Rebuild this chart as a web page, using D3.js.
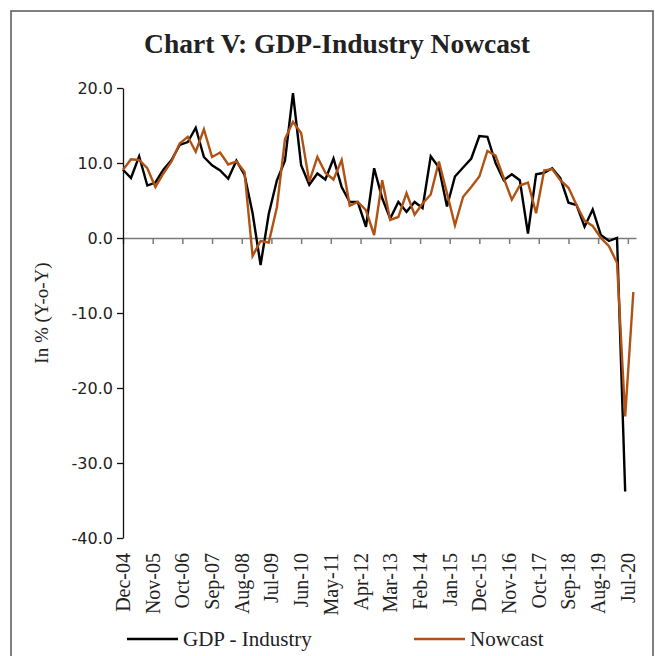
<!DOCTYPE html>
<html>
<head>
<meta charset="utf-8">
<script src="https://cdn.jsdelivr.net/npm/d3@7"></script>
<style>
  body { margin: 0; background: #fff; }
  .lbl { font-family: "Liberation Serif", serif; fill: #222; }
  .yax text { font-family: "DejaVu Sans", sans-serif; font-size: 16px; fill: #222; }
</style>
</head>
<body>
<div id="chart"></div>
<script>
const width = 655
const height = 656

// quarters (end month), Dec-04 .. Sep-20
const quarters = ["Dec-04","Mar-05","Jun-05","Sep-05","Dec-05","Mar-06","Jun-06","Sep-06",
  "Dec-06","Mar-07","Jun-07","Sep-07","Dec-07","Mar-08","Jun-08","Sep-08",
  "Dec-08","Mar-09","Jun-09","Sep-09","Dec-09","Mar-10","Jun-10","Sep-10",
  "Dec-10","Mar-11","Jun-11","Sep-11","Dec-11","Mar-12","Jun-12","Sep-12",
  "Dec-12","Mar-13","Jun-13","Sep-13","Dec-13","Mar-14","Jun-14","Sep-14",
  "Dec-14","Mar-15","Jun-15","Sep-15","Dec-15","Mar-16","Jun-16","Sep-16",
  "Dec-16","Mar-17","Jun-17","Sep-17","Dec-17","Mar-18","Jun-18","Sep-18",
  "Dec-18","Mar-19","Jun-19","Sep-19","Dec-19","Mar-20","Jun-20","Sep-20"]

// GDP - Industry, y-o-y % (ends Jun-20)
const gdpIndustry = [9.1, 8.0, 10.9, 7.0, 7.4, 9.1, 10.4, 12.4,
  12.8, 14.7, 10.8, 9.7, 9.0, 7.9, 10.3, 8.4,
  3.3, -3.6, 3.2, 7.7, 10.3, 19.3, 9.7, 7.1,
  8.6, 7.8, 10.6, 6.8, 4.8, 4.8, 1.5, 9.3,
  5.3, 2.6, 4.8, 3.5, 4.8, 4.0, 10.9, 9.4,
  4.2, 8.2, 9.4, 10.6, 13.6, 13.5, 10.0, 7.7,
  8.5, 7.7, 0.6, 8.5, 8.7, 9.3, 8.0, 4.7,
  4.4, 1.5, 3.8, 0.4, -0.4, 0.0, -33.8]

// Nowcast, y-o-y % (ends Sep-20)
const nowcast = [9.1, 10.5, 10.4, 9.3, 6.8, 8.6, 10.2, 12.6,
  13.5, 11.5, 14.5, 10.8, 11.4, 9.8, 10.2, 8.8,
  -2.4, -0.4, -0.6, 4.1, 13.2, 15.5, 14.0, 7.5,
  10.8, 8.7, 7.8, 10.4, 4.3, 4.8, 3.7, 0.4,
  7.7, 2.4, 2.8, 6.0, 3.1, 4.6, 5.8, 10.2,
  6.0, 1.7, 5.5, 6.8, 8.2, 11.6, 11.0, 8.0,
  5.1, 7.0, 7.4, 3.3, 9.0, 9.2, 7.7, 6.7,
  4.4, 2.3, 1.6, 0.0, -1.1, -3.3, -23.8, -7.2]

const xTickLabels = ["Dec-04","Nov-05","Oct-06","Sep-07","Aug-08","Jul-09","Jun-10","May-11",
  "Apr-12","Mar-13","Feb-14","Jan-15","Dec-15","Nov-16","Oct-17","Sep-18","Aug-19","Jul-20"]
const yTicks = [20, 10, 0, -10, -20, -30, -40]

const parse = d3.timeParse("%b-%y")

const svg = d3.select("div#chart")
    .append("svg")
    .attr("width", width)
    .attr("height", height)

// marco del grafico
svg.append("rect")
    .attr("x", 11).attr("y", 11)
    .attr("width", 642).attr("height", 660)
    .attr("fill", "none")
    .attr("stroke", "#555")
    .attr("stroke-width", 1.5)

svg.append("text")
    .attr("class", "lbl")
    .attr("x", 337).attr("y", 53)
    .attr("text-anchor", "middle")
    .style("font-size", "27.5px")
    .style("font-weight", "bold")
    .text("Chart V: GDP-Industry Nowcast")

const x = d3.scaleTime()
    .domain([parse("Dec-04"), parse("Oct-20")])
    .range([123, 636])
const y = d3.scaleLinear().domain([-40, 20]).range([538, 88])

// eje x en el cero
const xAxis = d3.axisBottom(x)
    .tickValues(xTickLabels.map(parse))
    .tickFormat("")
    .tickSize(6)
    .tickSizeOuter(0)
const xg = svg.append("g").attr("transform", `translate(0,${y(0)})`).call(xAxis)
xg.selectAll("path, line").attr("stroke", "#7a7a7a").attr("stroke-width", 1.5)

// eje y
const yAxis = d3.axisLeft(y)
    .tickValues(yTicks)
    .tickFormat(d => d.toFixed(1))
    .tickSize(6)
    .tickSizeOuter(0)
    .tickPadding(4)
const yg = svg.append("g").attr("class", "yax").attr("transform", "translate(123,0)").call(yAxis)
yg.selectAll("path, line").attr("stroke", "#111").attr("stroke-width", 1.3)

svg.append("text")
    .attr("class", "lbl")
    .attr("transform", `translate(48,${y(-10)}) rotate(-90)`)
    .attr("text-anchor", "middle")
    .style("font-size", "19px")
    .text("In % (Y-o-Y)")

// etiquetas de fecha abajo, giradas
svg.append("g").selectAll("text").data(xTickLabels)
    .join("text")
    .attr("class", "lbl")
    .attr("transform", d => `translate(${x(parse(d))},553) rotate(-90)`)
    .attr("text-anchor", "end")
    .attr("dy", "0.35em")
    .style("font-size", "20px")
    .text(d => d)

const line = d3.line()
    .x((d, i) => x(parse(quarters[i])))
    .y(d => y(d))

svg.append("path").datum(gdpIndustry)
    .attr("d", line)
    .attr("fill", "none")
    .attr("stroke", "#000")
    .attr("stroke-width", 2.4)
    .attr("stroke-linejoin", "miter")

svg.append("path").datum(nowcast)
    .attr("d", line)
    .attr("fill", "none")
    .attr("stroke", "#b05214")
    .attr("stroke-width", 2.4)

// leyenda
const legend = [
    { name: "GDP - Industry", color: "#000", x: 127 },
    { name: "Nowcast", color: "#b05214", x: 414 }
]
const lg = svg.append("g").selectAll("g").data(legend).join("g")
    .attr("transform", d => `translate(${d.x},639)`)
lg.append("line")
    .attr("x1", 0).attr("x2", 51)
    .attr("stroke", d => d.color)
    .attr("stroke-width", 2.4)
lg.append("text")
    .attr("class", "lbl")
    .attr("x", 56)
    .attr("dy", "0.35em")
    .style("font-size", "21px")
    .text(d => d.name)
</script>
</body>
</html>
